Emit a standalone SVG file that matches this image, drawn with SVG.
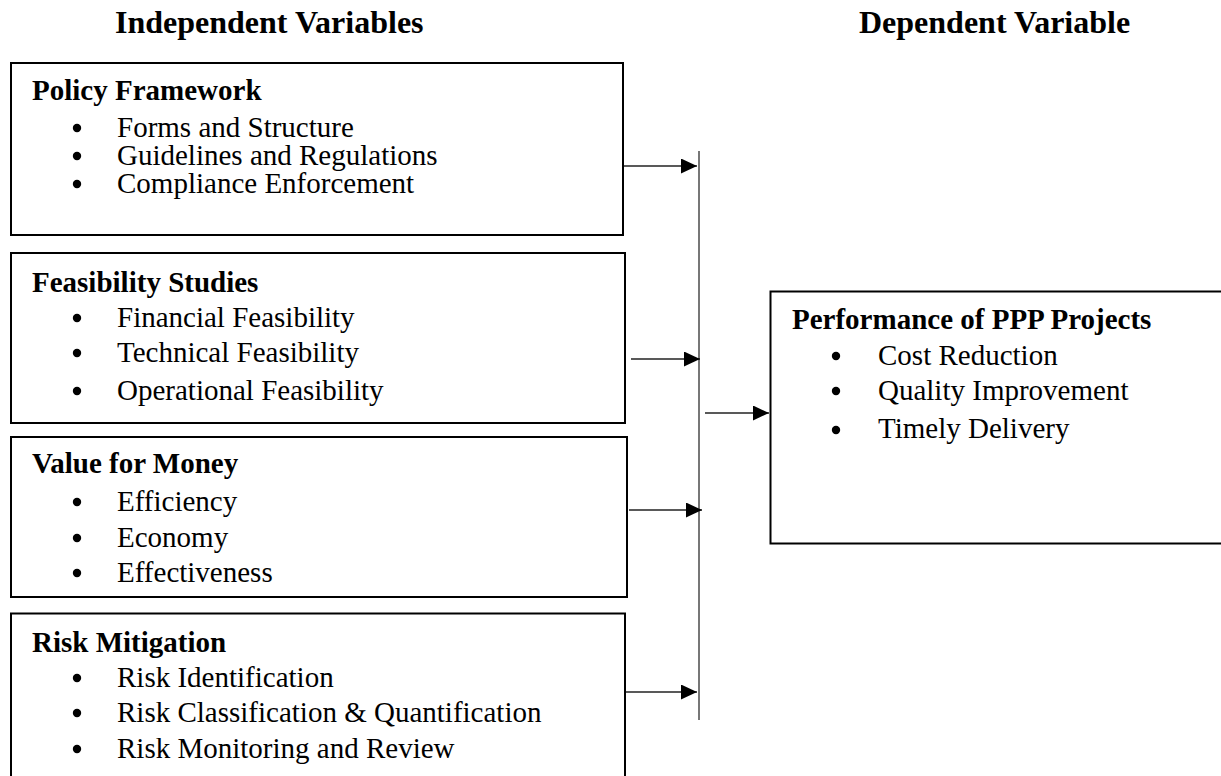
<svg xmlns="http://www.w3.org/2000/svg" width="1221" height="776" viewBox="0 0 1221 776">
<style>
text{font-family:"Liberation Serif","Times New Roman",serif;fill:#000;font-size:29px}
.title{font-size:32px;font-weight:bold}
.head{font-weight:bold}
.dot{fill:#000}
.box{fill:#fff;stroke:#000;stroke-width:2}
.conn{stroke:#222;stroke-width:1.4;fill:none}
.bus{stroke:#555;stroke-width:1.6;fill:none}
</style>
<defs>
<marker id="ah" markerUnits="userSpaceOnUse" markerWidth="17" markerHeight="16" refX="16" refY="7.5" orient="auto" viewBox="0 0 17 16">
<path d="M0,0 L16,7.5 L0,15 z" fill="#000"/>
</marker>
</defs>
<rect width="1221" height="776" fill="#fff"/>
<text class="title" x="115" y="33">Independent Variables</text>
<text class="title" x="859" y="33">Dependent Variable</text>

<g id="policy-framework">
<rect class="box" x="11" y="63" width="612" height="172"/>
<text class="head" x="32" y="100">Policy Framework</text>
<circle class="dot" cx="77" cy="128" r="4.2"/><text x="117" y="137">Forms and Structure</text>
<circle class="dot" cx="77" cy="156" r="4.2"/><text x="117" y="165">Guidelines and Regulations</text>
<circle class="dot" cx="77" cy="184" r="4.2"/><text x="117" y="193">Compliance Enforcement</text>
</g>

<g id="feasibility-studies">
<rect class="box" x="11" y="253" width="614" height="170"/>
<text class="head" x="32" y="292">Feasibility Studies</text>
<circle class="dot" cx="77" cy="318" r="4.2"/><text x="117" y="327">Financial Feasibility</text>
<circle class="dot" cx="77" cy="353" r="4.2"/><text x="117" y="362">Technical Feasibility</text>
<circle class="dot" cx="77" cy="391" r="4.2"/><text x="117" y="400">Operational Feasibility</text>
</g>

<g id="value-for-money">
<rect class="box" x="11" y="437" width="616" height="160"/>
<text class="head" x="32" y="473">Value for Money</text>
<circle class="dot" cx="77" cy="502" r="4.2"/><text x="117" y="511">Efficiency</text>
<circle class="dot" cx="77" cy="538" r="4.2"/><text x="117" y="547">Economy</text>
<circle class="dot" cx="77" cy="573" r="4.2"/><text x="117" y="582">Effectiveness</text>
</g>

<g id="risk-mitigation">
<rect class="box" x="11" y="613.5" width="614" height="180"/>
<text class="head" x="32" y="652">Risk Mitigation</text>
<circle class="dot" cx="77" cy="678" r="4.2"/><text x="117" y="687">Risk Identification</text>
<circle class="dot" cx="77" cy="713" r="4.2"/><text x="117" y="722">Risk Classification &amp; Quantification</text>
<circle class="dot" cx="77" cy="749" r="4.2"/><text x="117" y="758">Risk Monitoring and Review</text>
</g>

<g id="performance-ppp">
<rect class="box" x="770.5" y="291.5" width="470" height="252"/>
<text class="head" x="792" y="329">Performance of PPP Projects</text>
<circle class="dot" cx="836" cy="356" r="4.2"/><text x="878" y="365">Cost Reduction</text>
<circle class="dot" cx="836" cy="391" r="4.2"/><text x="878" y="400">Quality Improvement</text>
<circle class="dot" cx="836" cy="430" r="4.2"/><text x="878" y="438">Timely Delivery</text>
</g>

<g id="connectors">
<line class="bus" x1="699" y1="151" x2="699" y2="720"/>
<line class="conn" x1="624" y1="166" x2="697" y2="166" marker-end="url(#ah)"/>
<line class="conn" x1="631" y1="359" x2="700" y2="359" marker-end="url(#ah)"/>
<line class="conn" x1="629" y1="510" x2="702" y2="510" marker-end="url(#ah)"/>
<line class="conn" x1="626" y1="692" x2="697" y2="692" marker-end="url(#ah)"/>
<line class="conn" x1="705" y1="413" x2="769" y2="413" marker-end="url(#ah)"/>
</g>
</svg>
